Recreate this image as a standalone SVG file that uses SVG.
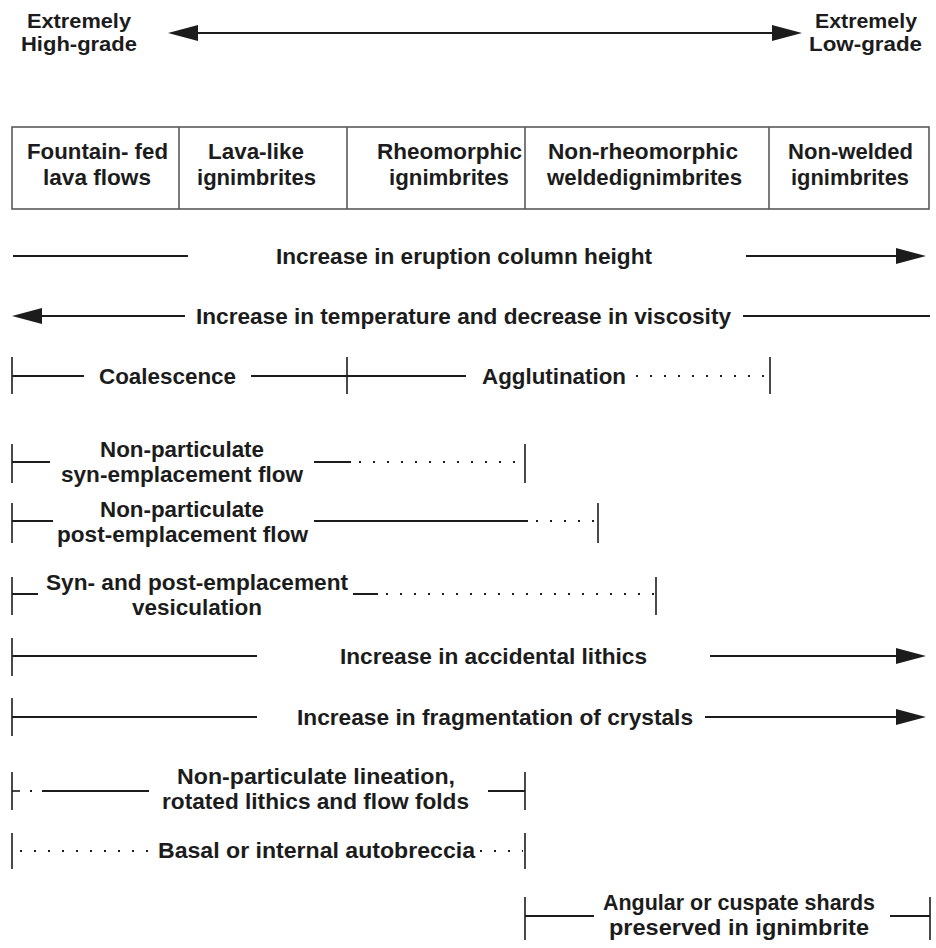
<svg xmlns="http://www.w3.org/2000/svg" width="936" height="948" viewBox="0 0 936 948">
<style>
text{font-family:"Liberation Sans",Arial,sans-serif;font-weight:bold;font-size:22px;fill:#1c1c1c}
.top{font-size:20px}
.ln{stroke:#1c1c1c;stroke-width:2;fill:none}
.tk{stroke:#1c1c1c;stroke-width:1.6;fill:none}
.dt{stroke:#1c1c1c;stroke-width:2;fill:none;stroke-dasharray:2 12}
.tb{stroke:#5a5a5a;stroke-width:1.6;fill:none}
</style>
<defs>
<marker id="ah" viewBox="0 0 30 16" refX="0" refY="8" markerWidth="30" markerHeight="16" markerUnits="userSpaceOnUse" orient="auto-start-reverse">
<path d="M0,0 L30,8 L0,16 Z" fill="#1c1c1c"/>
</marker>
</defs>
<rect width="936" height="948" fill="#fff"/>

<g id="label-high">
<text class="top" x="27" y="28" textLength="104" lengthAdjust="spacingAndGlyphs">Extremely</text>
<text class="top" x="21" y="51" textLength="116" lengthAdjust="spacingAndGlyphs">High-grade</text>
</g>
<g id="label-low">
<text class="top" x="815" y="28" textLength="102" lengthAdjust="spacingAndGlyphs">Extremely</text>
<text class="top" x="809" y="51" textLength="113" lengthAdjust="spacingAndGlyphs">Low-grade</text>
</g>

<g id="table">
<rect class="tb" x="12" y="127" width="917" height="82"/>
<line class="tb" x1="179" y1="127" x2="179" y2="209"/>
<line class="tb" x1="347" y1="127" x2="347" y2="209"/>
<line class="tb" x1="525" y1="127" x2="525" y2="209"/>
<line class="tb" x1="769" y1="127" x2="769" y2="209"/>
</g>
<g id="cell-fountain">
<text x="27" y="159" textLength="141" lengthAdjust="spacingAndGlyphs">Fountain- fed</text>
<text x="43" y="185" textLength="108" lengthAdjust="spacingAndGlyphs">lava flows</text>
</g>
<g id="cell-lavalike">
<text x="208" y="159" textLength="96" lengthAdjust="spacingAndGlyphs">Lava-like</text>
<text x="197" y="185" textLength="119" lengthAdjust="spacingAndGlyphs">ignimbrites</text>
</g>
<g id="cell-rheomorphic">
<text x="377" y="159" textLength="145" lengthAdjust="spacingAndGlyphs">Rheomorphic</text>
<text x="389" y="185" textLength="120" lengthAdjust="spacingAndGlyphs">ignimbrites</text>
</g>
<g id="cell-nonrheomorphic">
<text x="548" y="159" textLength="190" lengthAdjust="spacingAndGlyphs">Non-rheomorphic</text>
<text x="547" y="185" textLength="195" lengthAdjust="spacingAndGlyphs">weldedignimbrites</text>
</g>
<g id="cell-nonwelded">
<text x="788" y="159" textLength="125" lengthAdjust="spacingAndGlyphs">Non-welded</text>
<text x="791" y="185" textLength="118" lengthAdjust="spacingAndGlyphs">ignimbrites</text>
</g>

<g id="row-eruption"><text x="276" y="264" textLength="376" lengthAdjust="spacingAndGlyphs">Increase in eruption column height</text></g>
<g id="row-temperature"><text x="196" y="324" textLength="535" lengthAdjust="spacingAndGlyphs">Increase in temperature and decrease in viscosity</text></g>
<g id="row-coalescence"><text x="99" y="384" textLength="137" lengthAdjust="spacingAndGlyphs">Coalescence</text></g>
<g id="row-agglutination"><text x="482" y="384" textLength="144" lengthAdjust="spacingAndGlyphs">Agglutination</text></g>
<g id="row-syn">
<text x="100" y="457" textLength="164" lengthAdjust="spacingAndGlyphs">Non-particulate</text>
<text x="61" y="482" textLength="242" lengthAdjust="spacingAndGlyphs">syn-emplacement flow</text>
</g>
<g id="row-post">
<text x="100" y="517" textLength="164" lengthAdjust="spacingAndGlyphs">Non-particulate</text>
<text x="57" y="542" textLength="251" lengthAdjust="spacingAndGlyphs">post-emplacement flow</text>
</g>
<g id="row-vesiculation">
<text x="46" y="590" textLength="302" lengthAdjust="spacingAndGlyphs">Syn- and post-emplacement</text>
<text x="132" y="615" textLength="130" lengthAdjust="spacingAndGlyphs">vesiculation</text>
</g>
<g id="row-lithics"><text x="340" y="664" textLength="307" lengthAdjust="spacingAndGlyphs">Increase in accidental lithics</text></g>
<g id="row-fragmentation"><text x="297" y="725" textLength="396" lengthAdjust="spacingAndGlyphs">Increase in fragmentation of crystals</text></g>
<g id="row-lineation">
<text x="177" y="784" textLength="278" lengthAdjust="spacingAndGlyphs">Non-particulate lineation,</text>
<text x="162" y="809" textLength="307" lengthAdjust="spacingAndGlyphs">rotated lithics and flow folds</text>
</g>
<g id="row-autobreccia"><text x="158" y="858" textLength="317" lengthAdjust="spacingAndGlyphs">Basal or internal autobreccia</text></g>
<g id="row-angular">
<text x="603" y="910" textLength="272" lengthAdjust="spacingAndGlyphs">Angular or cuspate shards</text>
<text x="609" y="935" textLength="260" lengthAdjust="spacingAndGlyphs">preserved in ignimbrite</text>
</g>

<g id="connectors">
<line class="ln" x1="198" y1="33" x2="772" y2="33" marker-start="url(#ah)" marker-end="url(#ah)"/>
<line class="ln" x1="13" y1="256" x2="188" y2="256"/>
<line class="ln" x1="746" y1="256" x2="896" y2="256" marker-end="url(#ah)"/>
<line class="ln" x1="42" y1="316" x2="185" y2="316" marker-start="url(#ah)"/>
<line class="ln" x1="743" y1="316" x2="930" y2="316"/>
<line class="tk" x1="12" y1="357" x2="12" y2="394"/>
<line class="tk" x1="347" y1="357" x2="347" y2="394"/>
<line class="tk" x1="770" y1="357" x2="770" y2="394"/>
<line class="ln" x1="12" y1="376" x2="84" y2="376"/>
<line class="ln" x1="251" y1="376" x2="466" y2="376"/>
<line class="dt" x1="636" y1="376" x2="766" y2="376"/>
<line class="tk" x1="12" y1="444" x2="12" y2="483"/>
<line class="ln" x1="12" y1="462" x2="50" y2="462"/>
<line class="ln" x1="314" y1="462" x2="351" y2="462"/>
<line class="dt" x1="359" y1="462" x2="522" y2="462"/>
<line class="tk" x1="525" y1="444" x2="525" y2="483"/>
<line class="tk" x1="12" y1="503" x2="12" y2="543"/>
<line class="ln" x1="12" y1="521" x2="53" y2="521"/>
<line class="ln" x1="314" y1="521" x2="528" y2="521"/>
<line class="dt" x1="536" y1="521" x2="596" y2="521"/>
<line class="tk" x1="598" y1="503" x2="598" y2="543"/>
<line class="tk" x1="12" y1="577" x2="12" y2="615"/>
<line class="ln" x1="12" y1="594" x2="38" y2="594"/>
<line class="ln" x1="353" y1="594" x2="378" y2="594"/>
<line class="dt" x1="386" y1="594" x2="654" y2="594"/>
<line class="tk" x1="656" y1="577" x2="656" y2="615"/>
<line class="tk" x1="12" y1="638" x2="12" y2="676"/>
<line class="ln" x1="12" y1="656" x2="257" y2="656"/>
<line class="ln" x1="710" y1="656" x2="896" y2="656" marker-end="url(#ah)"/>
<line class="tk" x1="12" y1="698" x2="12" y2="736"/>
<line class="ln" x1="12" y1="717" x2="257" y2="717"/>
<line class="ln" x1="705" y1="717" x2="896" y2="717" marker-end="url(#ah)"/>
<line class="tk" x1="12" y1="772" x2="12" y2="810"/>
<line class="tk" x1="12" y1="791" x2="20" y2="791"/>
<line class="ln" x1="30" y1="791" x2="32" y2="791"/>
<line class="ln" x1="42" y1="791" x2="149" y2="791"/>
<line class="ln" x1="488" y1="791" x2="525" y2="791"/>
<line class="tk" x1="525" y1="772" x2="525" y2="810"/>
<line class="tk" x1="12" y1="833" x2="12" y2="869"/>
<line class="dt" x1="20" y1="851" x2="152" y2="851"/>
<line class="dt" x1="480" y1="851" x2="523" y2="851"/>
<line class="tk" x1="525" y1="833" x2="525" y2="869"/>
<line class="tk" x1="525" y1="897" x2="525" y2="940"/>
<line class="ln" x1="525" y1="916" x2="594" y2="916"/>
<line class="ln" x1="890" y1="916" x2="930" y2="916"/>
<line class="tk" x1="930" y1="897" x2="930" y2="940"/>
</g>
</svg>
